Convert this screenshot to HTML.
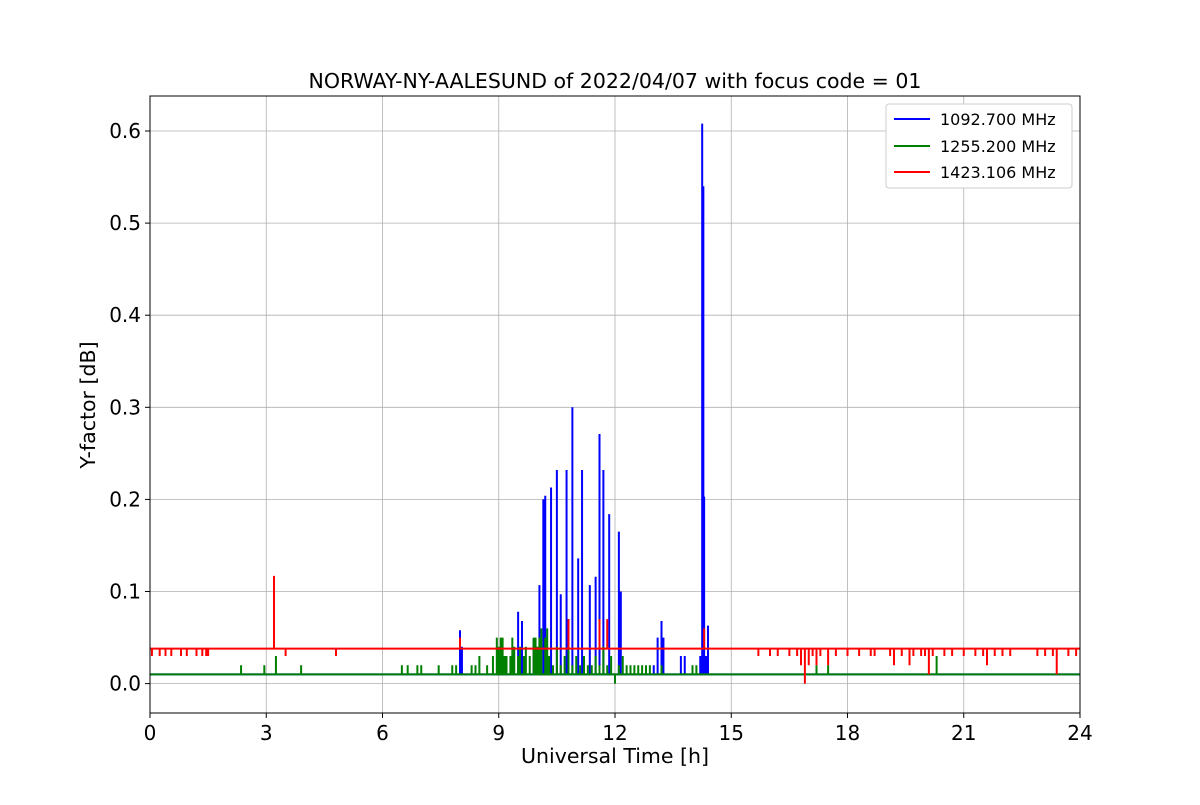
<!DOCTYPE html>
<html><head><meta charset="utf-8">
<style>
body{margin:0;background:#fff;}
svg text{font-family:"DejaVu Sans","Liberation Sans",sans-serif;fill:#000;}
</style></head>
<body>
<svg id="chart" width="1200" height="800" xmlns="http://www.w3.org/2000/svg">
<rect width="1200" height="800" fill="#fff"/>
<g id="grid"></g>
<g id="series" clip-path="url(#clip)"></g>
<defs><clipPath id="clip"><rect x="150" y="96" width="930" height="617"/></clipPath></defs>
<rect x="150" y="96" width="930" height="617" fill="none" stroke="#000" stroke-width="1"/>
<g id="ticks"></g>
<text x="615" y="88" font-size="20.5" text-anchor="middle">NORWAY-NY-AALESUND of 2022/04/07 with focus code = 01</text>
<text x="615" y="763" font-size="20.5" text-anchor="middle">Universal Time [h]</text>
<text transform="translate(95,405) rotate(-90)" font-size="20.5" text-anchor="middle">Y-factor [dB]</text>
<g>
<rect x="886" y="104" width="186" height="84" fill="#fff" stroke="#ccc" rx="3"/>
<line x1="894" y1="119" x2="930" y2="119" stroke="#0000ff" stroke-width="2"/>
<text x="940" y="125" font-size="16">1092.700 MHz</text>
<line x1="894" y1="146" x2="930" y2="146" stroke="#008000" stroke-width="2"/>
<text x="940" y="152" font-size="16">1255.200 MHz</text>
<line x1="894" y1="172" x2="930" y2="172" stroke="#ff0000" stroke-width="2"/>
<text x="940" y="178" font-size="16">1423.106 MHz</text>
</g>
</svg>
<script>
const xTicks=[0,3,6,9,12,15,18,21,24];
const yTicks=[0.0,0.1,0.2,0.3,0.4,0.5,0.6];
const blueBase=0.01;
const blueTimes=[8.0,8.05,9.5,9.6,9.9,10.05,10.15,10.2,10.35,10.5,10.6,10.75,10.9,11.05,11.15,11.35,11.5,11.6,11.7,11.85,12.1,12.15,13.0,13.1,13.2,13.25,13.7,13.8,14.2,14.25,14.28,14.3,14.35,14.4];
const blueVals=[0.058,0.04,0.078,0.068,0.048,0.107,0.2,0.204,0.213,0.232,0.097,0.232,0.3,0.136,0.232,0.107,0.116,0.271,0.232,0.184,0.165,0.1,0.02,0.05,0.068,0.05,0.03,0.03,0.03,0.608,0.54,0.203,0.03,0.063];
const greenBase=0.01;
const greenTimes=[2.35,2.95,3.25,3.9,6.5,6.65,6.9,7.0,7.45,7.8,7.9,8.3,8.4,8.5,8.7,8.85,8.95,9.0,9.05,9.1,9.15,9.2,9.3,9.35,9.4,9.5,9.55,9.65,9.7,9.8,9.9,9.95,10.0,10.05,10.1,10.2,10.25,10.3,10.4,10.5,10.6,10.7,10.8,10.9,11.0,11.1,11.2,11.3,11.4,11.5,11.6,11.7,11.8,11.9,12.0,12.1,12.2,12.3,12.4,12.5,12.6,12.7,12.8,12.9,13.2,14.0,14.1,17.2,17.5,20.3];
const greenVals=[0.02,0.02,0.03,0.02,0.02,0.02,0.02,0.02,0.02,0.02,0.02,0.02,0.02,0.03,0.02,0.03,0.05,0.04,0.05,0.05,0.03,0.03,0.03,0.05,0.04,0.03,0.04,0.03,0.04,0.03,0.05,0.05,0.04,0.05,0.06,0.05,0.06,0.03,0.02,0.04,0.02,0.03,0.07,0.02,0.03,0.02,0.03,0.02,0.02,0.03,0.02,0.04,0.02,0.03,0.0,0.02,0.03,0.02,0.02,0.02,0.02,0.02,0.02,0.02,0.02,0.02,0.02,0.02,0.02,0.03];
const redBase=0.038;
const redTimes=[0.05,0.25,0.4,0.55,0.8,0.95,1.2,1.35,1.45,1.5,3.2,3.5,4.8,8.0,10.8,11.6,11.8,14.3,15.7,16.0,16.2,16.5,16.7,16.8,16.9,17.0,17.1,17.2,17.3,17.5,17.7,18.0,18.3,18.6,18.7,19.1,19.2,19.4,19.6,19.7,19.9,20.0,20.1,20.2,20.5,20.7,21.0,21.3,21.5,21.6,21.8,22.0,22.2,22.9,23.1,23.3,23.4,23.7,23.9];
const redVals=[0.03,0.03,0.03,0.03,0.03,0.03,0.03,0.03,0.03,0.03,0.117,0.03,0.03,0.05,0.07,0.07,0.07,0.06,0.03,0.03,0.03,0.03,0.03,0.02,0.0,0.02,0.03,0.02,0.03,0.02,0.03,0.03,0.03,0.03,0.03,0.03,0.02,0.03,0.02,0.03,0.03,0.03,0.01,0.03,0.03,0.03,0.03,0.03,0.03,0.02,0.03,0.03,0.03,0.03,0.03,0.03,0.01,0.03,0.03];

const X0=150,X1=1080,Y0=96,Y1=713;
const xMin=0,xMax=24,yMin=-0.0319,yMax=0.638;
const xs=v=>X0+(v-xMin)/(xMax-xMin)*(X1-X0);
const ys=v=>Y1-(v-yMin)/(yMax-yMin)*(Y1-Y0);
const NS="http://www.w3.org/2000/svg";
function mk(tag,attrs,parent){const e=document.createElementNS(NS,tag);for(const k in attrs)e.setAttribute(k,attrs[k]);parent.appendChild(e);return e;}
const grid=document.getElementById('grid'),ticks=document.getElementById('ticks'),series=document.getElementById('series');
xTicks.forEach(t=>{
  const g=mk('line',{x1:xs(t),x2:xs(t),y1:Y0,y2:Y1,stroke:'#b0b0b0','stroke-width':0.8},grid);
  
  
  mk('line',{x1:xs(t),x2:xs(t),y1:Y1,y2:Y1+5,stroke:'#000'},ticks);
  const tx=mk('text',{x:xs(t),y:Y1+27,'font-size':20,'text-anchor':'middle'},ticks);
  tx.textContent=String(t);
  
  
});
yTicks.forEach(t=>{
  const g=mk('line',{x1:X0,x2:X1,y1:ys(t),y2:ys(t),stroke:'#b0b0b0','stroke-width':0.8},grid);
  
  
  mk('line',{x1:X0-5,x2:X0,y1:ys(t),y2:ys(t),stroke:'#000'},ticks);
  const tx=mk('text',{x:X0-9,y:ys(t)+7,'font-size':20,'text-anchor':'end'},ticks);
  tx.textContent=t.toFixed(1);
  
  
});
function drawSeries(base,times,vals,color,name){
  let d='M'+xs(0)+','+ys(base);
  const idx=times.map((t,i)=>i).sort((a,b)=>times[a]-times[b]);
  idx.forEach(i=>{
    const x=xs(times[i]);
    d+=' L'+x+','+ys(base)+' L'+x+','+ys(vals[i])+' L'+x+','+ys(base);
  });
  d+=' L'+xs(24)+','+ys(base);
  const p=mk('path',{d:d,fill:'none',stroke:color,'stroke-width':2,'stroke-linejoin':'miter'},series);
  
  
}
drawSeries(blueBase,blueTimes,blueVals,'#0000ff','series-1092-mhz');
drawSeries(greenBase,greenTimes,greenVals,'#008000','series-1255-mhz');
drawSeries(redBase,redTimes,redVals,'#ff0000','series-1423-mhz');
</script>
</body></html>
